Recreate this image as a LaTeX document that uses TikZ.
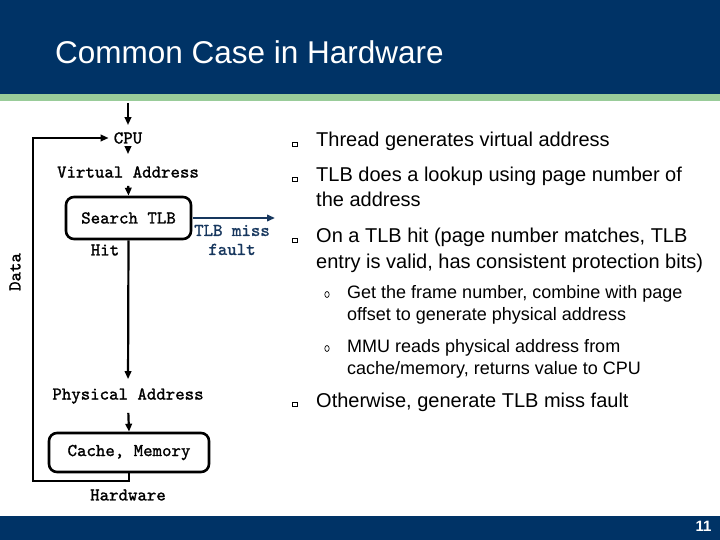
\documentclass[tikz,border=0pt]{standalone}
\usepackage{fontspec}
\setmainfont{Liberation Sans}
\newfontfamily\diagfont[FakeBold=1.3]{lmmono10-regular.otf}
\usetikzlibrary{arrows.meta,positioning}
\definecolor{SlideNavy}{HTML}{003366}
\definecolor{SlideGreen}{HTML}{99CC99}
\definecolor{MissBlue}{HTML}{17375E}

\begin{document}
\begin{tikzpicture}[
  x=1pt,y=-1pt,
  lbl/.style={font=\diagfont\fontsize{18}{19}\selectfont,inner sep=0pt},
  box/.style={lbl,draw,line width=2.6pt,rounded corners=8pt},
  link/.style={line width=2.2pt},
  arrow/.style={link,-{Triangle[length=8pt,width=6.5pt]}},
  point/.style={anchor=base west,align=left,inner sep=0pt,font=\fontsize{20}{25}\selectfont},
  subpoint/.style={point,font=\fontsize{18}{22}\selectfont}
]
  \useasboundingbox (0,0) rectangle (720,540);
  % slide frame
  \fill[white] (0,0) rectangle (720,540);
  \fill[SlideNavy] (0,0) rectangle (720,94);
  \fill[SlideGreen] (0,94) rectangle (720,101);
  \fill[SlideNavy] (0,516) rectangle (720,540);
  \node[anchor=west,text=white,inner sep=0pt,font=\fontsize{31.5}{36}\selectfont] (title) at (55,52) {Common Case in Hardware};
  \node[text=white,inner sep=0pt,font=\bfseries\fontsize{15}{18}\selectfont] (page) at (703.5,526.5) {11};

  % diagram
  \coordinate (entry) at (128,103);
  \node[lbl] (cpu) at (128,138) {CPU};
  \node[lbl] (vaddr) at (128,172) {Virtual Address};
  \node[box,minimum width=125pt,minimum height=42pt] (search) at (128.5,218) {Search TLB};
  \node[lbl] (hit) at (105,250) {Hit};
  \node[lbl,text=MissBlue,align=center] (miss) at (232,240) {TLB miss\\fault};
  \coordinate (missend) at (275,218);
  \node[lbl] (paddr) at (128,396) {Physical Address};
  \node[box,minimum width=160pt,minimum height=39pt] (cache) at (129,452.5) {Cache, Memory};
  \node[lbl] (hw) at (128,495) {Hardware};
  \node[lbl,rotate=90] (data) at (15,272) {Data};
  \coordinate (loop) at (33,481);

  \draw[arrow,shorten >=7pt] (entry) -- (cpu.north);
  \draw[arrow,shorten <=4pt,shorten >=12pt] (cpu.south) -- (vaddr.north);
  \draw[arrow,shorten <=8pt] (vaddr.south) -- (search.north);
  \draw[arrow,draw=MissBlue,shorten <=1pt] (search.east) -- (missend);
  \draw[arrow,shorten >=9pt] (search.south) -- (paddr.north);
  \draw[arrow,shorten <=9pt] (paddr.south) -- (cache.north);
  \draw[arrow,shorten >=5pt] (cache.south) |- (loop) |- (cpu.west);

  % bullets
  \foreach \y in {147,182,243,407}
    \draw[line width=0.7pt] (292,\y-5) rectangle (297,\y-1);
  \foreach \y in {298,352}
    \draw[line width=0.7pt] (327,\y-3.5) ellipse (2.2 and 3);
  % multi-line points sit on the baseline of their last line
  \node[point] (p1) at (316,147) {Thread generates virtual address};
  \node[point] (p2) at (316,207) {TLB does a lookup using page number of\\the address};
  \node[point] (p3) at (316,268) {On a TLB hit (page number matches, TLB\\entry is valid, has consistent protection bits)};
  \node[subpoint] (p3a) at (347,320) {Get the frame number, combine with page\\offset to generate physical address};
  \node[subpoint] (p3b) at (347,374) {MMU reads physical address from\\cache/memory, returns value to CPU};
  \node[point] (p4) at (316,407) {Otherwise, generate TLB miss fault};
\end{tikzpicture}
\end{document}
